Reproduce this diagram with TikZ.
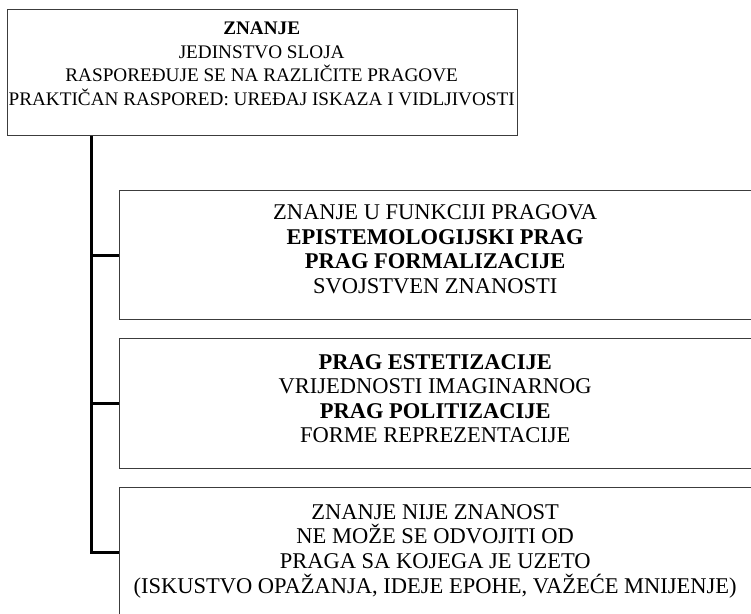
\documentclass[tikz,border=0pt]{standalone}
\usepackage{fontspec}
\setmainfont{Liberation Serif}
\usepackage{xcolor}
\usetikzlibrary{positioning}
\definecolor{framegray}{HTML}{3C3C3C}
\tikzset{
  frame/.style={draw=framegray, line width=1.4pt, inner sep=0pt, anchor=north west},
  txt/.style={align=center, inner sep=0pt, font=\fontsize{22.5}{24.6}\selectfont},
  toptxt/.style={txt, font=\fontsize{19.2}{23.7}\selectfont},
  link/.style={draw=black, line width=3pt, line join=miter},
}

\begin{document}
\begin{tikzpicture}[x=1pt, y=-1pt]
  \useasboundingbox (0,0) rectangle (751,613);
  \clip (0,0) rectangle (751,613);
  \coordinate (root) at (91,0);

  % boxes
  \node[frame, minimum width=510pt, minimum height=126pt] (top) at (7,9) {};
  \node[frame, minimum width=633pt, minimum height=129pt] (b1) at (119,190) {};
  \node[frame, minimum width=633pt, minimum height=130pt] (b2) at (119,338) {};
  \node[frame, minimum width=633pt, minimum height=129pt] (b3) at (119,487) {};

  % texts
  \node[toptxt] (t0) at ([xshift=-1pt, yshift=9pt]top.center) {\textbf{ZNANJE}\\ JEDINSTVO SLOJA\\
    RASPOREĐUJE SE NA RAZLIČITE PRAGOVE\\ PRAKTIČAN RASPORED: UREĐAJ ISKAZA I VIDLJIVOSTI};
  \node[txt] (t1) at ([xshift=-1pt, yshift=6pt]b1.center) {ZNANJE U FUNKCIJI PRAGOVA\\
    \textbf{EPISTEMOLOGIJSKI PRAG}\\ \textbf{PRAG FORMALIZACIJE}\\ SVOJSTVEN ZNANOSTI};
  \node[txt] (t2) at ([xshift=-1pt, yshift=5pt]b2.center) {\textbf{PRAG ESTETIZACIJE}\\
    VRIJEDNOSTI IMAGINARNOG\\ \textbf{PRAG POLITIZACIJE}\\ FORME REPREZENTACIJE};
  \node[txt] (t3) at ([xshift=-1pt, yshift=1pt]b3.center) {ZNANJE NIJE ZNANOST\\
    NE MOŽE SE ODVOJITI OD\\ PRAGA SA KOJEGA JE UZETO\\
    (ISKUSTVO OPAŽANJA, IDEJE EPOHE, VAŽEĆE MNIJENJE)};

  % connectors
  \draw[link] (top.south -| root) |- (b3.west);
  \draw[link] (b1.west -| root) -- (b1.west);
  \draw[link] (b2.west -| root) -- (b2.west);
\end{tikzpicture}
\end{document}
